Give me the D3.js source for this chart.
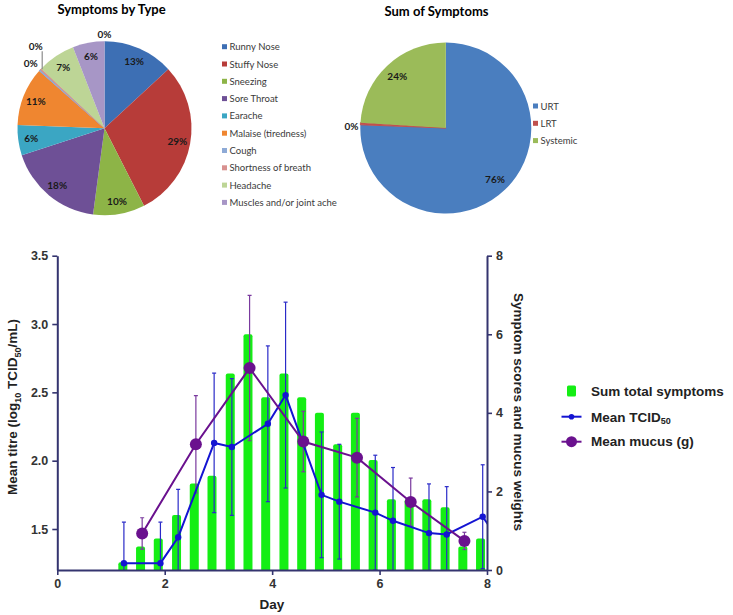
<!DOCTYPE html>
<html>
<head>
<meta charset="utf-8">
<script src="https://cdn.jsdelivr.net/npm/d3@7"></script>
<style>
  html, body { margin: 0; padding: 0; background: #fff; }
  svg { display: block; }
</style>
</head>
<body>
<svg id="chart" width="733" height="615"></svg>
<script>
// ---------------- DATA ----------------
// Pie 1: Symptoms by Type (percent of all symptoms)
const typeNames = ["Runny Nose", "Stuffy Nose", "Sneezing", "Sore Throat", "Earache",
  "Malaise (tiredness)", "Cough", "Shortness of breath", "Headache", "Muscles and/or joint ache", ""];
const typeValues = [13.1, 29.4, 9.6, 17.9, 5.6, 10.9, 0.3, 0.2, 7.1, 5.9, 0];
const typeColors = ["#3d6fb4", "#b73c39", "#8db447", "#6e5096", "#3ba6c3", "#ef8630",
  "#8eaad6", "#d8918f", "#bdd596", "#a796c6", "#cccccc"];

// Pie 2: Sum of Symptoms
const sumNames = ["URT", "LRT", "Systemic"];
const sumValues = [75.6, 0.4, 24.0];
const sumColors = ["#4a7ebf", "#c0504d", "#9bbb59"];

// Bottom chart
const xTicks = [0, 2, 4, 6, 8];
const leftTicks = [1.5, 2.0, 2.5, 3.0, 3.5];
const rightTicks = [0, 2, 4, 6, 8];

const barDays = [1.22, 1.55, 1.88, 2.22, 2.55, 2.88, 3.22, 3.55, 3.88, 4.22, 4.55,
  4.88, 5.22, 5.55, 5.88, 6.22, 6.55, 6.88, 7.22, 7.55, 7.88];
const symptomScores = [0.2, 0.6, 0.8, 1.4, 2.2, 2.4, 5.0, 6.0, 4.4, 5.0, 4.4,
  4.0, 3.2, 4.0, 2.8, 1.8, 1.8, 1.8, 1.6, 0.6, 0.8];

const tcidDays = [1.24, 1.92, 2.25, 2.92, 3.25, 3.92, 4.25, 4.92, 5.25, 5.92, 6.25, 6.92, 7.25, 7.92, 8.25];
const tcidMean = [1.25, 1.25, 1.44, 2.13, 2.10, 2.27, 2.48, 1.75, 1.70, 1.62, 1.56, 1.47, 1.46, 1.59, 1.40];
const tcidSD   = [0.30, 0.30, 0.35, 0.51, 0.50, 0.57, 0.68, 0.46, 0.42, 0.42, 0.39, 0.36, 0.35, 0.38, 0];

const mucusDays = [1.58, 2.58, 3.58, 4.58, 5.58, 6.58, 7.58];
const mucusMean = [0.93, 3.20, 5.14, 3.27, 2.86, 1.73, 0.74];
const mucusSD   = [0.40, 1.24, 1.85, 0.77, 1.00, 0.61, 0.22];

// ---------------- DRAW ----------------
const svg = d3.select("#chart");
svg.append("rect").attr("width", 733).attr("height", 615).attr("fill", "#fff");

const pieFont = "Lato, 'Open Sans', sans-serif";
const arialFont = "'Liberation Sans', Arial, sans-serif";
const pctFmt = v => d3.format(".0f")(v) + "%";

function drawPie(cfg) {
  const g = svg.append("g").attr("transform", `translate(${cfg.cx},${cfg.cy})`);
  const pie = d3.pie().sort(null).value(d => d.v);
  const data = cfg.names.map((n, i) => ({ name: n, v: cfg.values[i], color: cfg.colors[i] }));
  const arcs = pie(data);
  const arc = d3.arc().innerRadius(0).outerRadius(cfg.r);
  g.selectAll("path.slice").data(arcs).join("path")
    .attr("class", "slice")
    .attr("d", arc)
    .attr("fill", d => d.data.color)
    .attr("stroke", d => d.data.v > 0 && d.data.v < 1 ? d.data.color : "none")
    .attr("stroke-width", 1);
  const labelArc = d3.arc().innerRadius(cfg.r * cfg.lr).outerRadius(cfg.r * cfg.lr);
  let zi = 0;
  arcs.forEach(a => {
    if (a.data.v >= 1) {
      const [lx, ly] = labelArc.centroid(a);
      g.append("text").attr("x", lx).attr("y", ly)
        .attr("text-anchor", "middle").attr("dominant-baseline", "central")
        .attr("font-family", pieFont).attr("font-weight", "bold")
        .attr("font-size", cfg.fs).attr("fill", "#1a1a1a")
        .text(pctFmt(a.data.v));
    } else {
      const ang = (a.startAngle + a.endAngle) / 2;
      const ex = cfg.r * Math.sin(ang), ey = -cfg.r * Math.cos(ang);
      const off = cfg.zeroOffsets[zi] || [0, -8];
      if (off[2]) {
        g.append("line").attr("x1", ex + 1.5).attr("y1", ey)
          .attr("x2", ex + 1.5).attr("y2", ey + off[2])
          .attr("stroke", "#8c8c8c").attr("stroke-width", 1.2);
      }
      g.append("text").attr("x", ex + off[0]).attr("y", ey + off[1])
        .attr("text-anchor", "middle").attr("dominant-baseline", "central")
        .attr("font-family", pieFont).attr("font-weight", "bold")
        .attr("font-size", cfg.fs).attr("fill", "#1a1a1a")
        .text(pctFmt(a.data.v));
      zi++;
    }
  });
  // title
  svg.append("text").attr("x", cfg.tx).attr("y", cfg.ty)
    .attr("text-anchor", "middle").attr("dominant-baseline", "central")
    .attr("font-family", pieFont).attr("font-weight", "bold")
    .attr("font-size", 13).attr("fill", "#000")
    .text(cfg.title);
  // legend
  const lg = svg.append("g");
  data.filter(d => d.name !== "").forEach((d, i) => {
    const y = cfg.ly + i * cfg.lstep;
    lg.append("rect").attr("x", cfg.lx).attr("y", y - 2.5).attr("width", 5).attr("height", 5)
      .attr("fill", d.color);
    lg.append("text").attr("x", cfg.lx + 7.5).attr("y", y)
      .attr("dominant-baseline", "central")
      .attr("font-family", pieFont).attr("font-size", 9.5).attr("fill", "#3a3a3a")
      .text(d.name);
  });
}

drawPie({
  cx: 104.5, cy: 128.3, r: 87, lr: 0.85, fs: 10,
  names: typeNames, values: typeValues, colors: typeColors,
  zeroOffsets: [[-9, -7], [-5, -23, -18], [0, -7.5]],
  title: "Symptoms by Type", tx: 111.5, ty: 9,
  lx: 222, ly: 46.7, lstep: 17.3
});

drawPie({
  cx: 445.8, cy: 128, r: 85.5, lr: 0.83, fs: 10,
  names: sumNames, values: sumValues, colors: sumColors,
  zeroOffsets: [[-9, 2]],
  title: "Sum of Symptoms", tx: 436.5, ty: 11,
  lx: 533, ly: 106, lstep: 17.3
});

// ---------- bottom combo chart ----------
const x = d3.scaleLinear().domain([0, 8]).range([57.3, 487]);
const yL = d3.scaleLinear().domain([1.2, 3.5]).range([570, 255.7]);
const yR = d3.scaleLinear().domain([0, 8]).range([570, 255.7]);

const axisColor = "#34346f";
const blue = "#1414d2";
const purple = "#6a118e";
const green = "#14ee14";

svg.append("defs").append("clipPath").attr("id", "plotClip")
  .append("rect").attr("x", x(0)).attr("y", 240).attr("width", x(8) - x(0)).attr("height", 570 - 240);

const plot = svg.append("g").attr("clip-path", "url(#plotClip)");

// bars
const barW = 9;
plot.selectAll("rect.bar").data(barDays.map((d, i) => ({ d, v: symptomScores[i] })))
  .join("rect").attr("class", "bar")
  .attr("x", p => x(p.d) - barW / 2).attr("width", barW)
  .attr("y", p => yR(p.v)).attr("height", p => yR(0) - yR(p.v) + 3)
  .attr("rx", 2).attr("fill", green);

function errorBars(days, mean, sd, yScale, color, cap) {
  const pts = days.map((d, i) => ({ d, m: mean[i], s: sd[i] })).filter(p => p.s > 0 && p.d <= 8);
  const g = plot.append("g").attr("stroke", color).attr("stroke-width", 1.2).attr("fill", "none");
  pts.forEach(p => {
    g.append("line").attr("x1", x(p.d)).attr("x2", x(p.d))
      .attr("y1", yScale(p.m - p.s)).attr("y2", yScale(p.m + p.s));
    [p.m - p.s, p.m + p.s].forEach(v => {
      g.append("line").attr("x1", x(p.d) - cap).attr("x2", x(p.d) + cap)
        .attr("y1", yScale(v)).attr("y2", yScale(v));
    });
  });
}

errorBars(tcidDays, tcidMean, tcidSD, yL, "#2a2ac8", 2);
errorBars(mucusDays, mucusMean, mucusSD, yR, "#7a3a9e", 2);

// lines
const tcidPts = tcidDays.map((d, i) => [d, tcidMean[i]]);
plot.append("path").datum(tcidPts)
  .attr("d", d3.line().x(p => x(p[0])).y(p => yL(p[1])))
  .attr("fill", "none").attr("stroke", blue).attr("stroke-width", 2);

const mucusPts = mucusDays.map((d, i) => [d, mucusMean[i]]);
plot.append("path").datum(mucusPts)
  .attr("d", d3.line().x(p => x(p[0])).y(p => yR(p[1])))
  .attr("fill", "none").attr("stroke", purple).attr("stroke-width", 2);

plot.selectAll("circle.tcid").data(tcidPts.filter(p => p[0] <= 8)).join("circle")
  .attr("class", "tcid").attr("cx", p => x(p[0])).attr("cy", p => yL(p[1]))
  .attr("r", 3.2).attr("fill", blue);

plot.selectAll("circle.mucus").data(mucusPts).join("circle")
  .attr("class", "mucus").attr("cx", p => x(p[0])).attr("cy", p => yR(p[1]))
  .attr("r", 6).attr("fill", purple);

// axes
function styleAxis(g) {
  g.select(".domain").attr("stroke", axisColor).attr("stroke-width", 2);
  g.selectAll(".tick line").attr("stroke", axisColor).attr("stroke-width", 1.6);
  g.selectAll(".tick text").attr("fill", "#333")
    .attr("font-family", arialFont).attr("font-weight", "bold").attr("font-size", 12.5);
}

svg.append("g").attr("transform", `translate(${x(0)},0)`)
  .call(d3.axisLeft(yL).tickValues(leftTicks).tickFormat(d3.format(".1f")).tickSize(5).tickSizeOuter(0).tickPadding(4))
  .call(styleAxis);

svg.append("g").attr("transform", `translate(${x(8)},0)`)
  .call(d3.axisRight(yR).tickValues(rightTicks).tickFormat(d3.format("d")).tickSize(5).tickSizeOuter(0).tickPadding(4))
  .call(styleAxis);

svg.append("g").attr("transform", `translate(0,${yL(1.2)})`)
  .call(d3.axisBottom(x).tickValues(xTicks).tickFormat(d3.format("d")).tickSize(5).tickSizeOuter(0).tickPadding(4))
  .call(styleAxis);

// axis titles
const lt = svg.append("text")
  .attr("transform", `translate(17,407) rotate(-90)`)
  .attr("text-anchor", "middle")
  .attr("font-family", arialFont).attr("font-weight", "bold").attr("font-size", 13.5).attr("fill", "#222");
lt.append("tspan").text("Mean titre (log");
lt.append("tspan").attr("font-size", 9).attr("dy", 4).text("10");
lt.append("tspan").attr("dy", -4).text(" TCID");
lt.append("tspan").attr("font-size", 9).attr("dy", 4).text("50");
lt.append("tspan").attr("dy", -4).text("/mL)");

svg.append("text")
  .attr("transform", `translate(514,412) rotate(90)`)
  .attr("text-anchor", "middle")
  .attr("font-family", arialFont).attr("font-weight", "bold").attr("font-size", 13.5).attr("fill", "#222")
  .text("Symptom scores and mucus weights");

svg.append("text").attr("x", 272).attr("y", 609).attr("text-anchor", "middle")
  .attr("font-family", arialFont).attr("font-weight", "bold").attr("font-size", 13.5).attr("fill", "#222")
  .text("Day");

// legend
const leg = svg.append("g").attr("font-family", arialFont).attr("font-weight", "bold")
  .attr("font-size", 13.5).attr("fill", "#222");
const legX = 571.5, legTextX = 591;
const legY = [391, 416.7, 441.7];
leg.append("rect").attr("x", legX - 4.5).attr("y", legY[0] - 5.5).attr("width", 9).attr("height", 11)
  .attr("rx", 1.5).attr("fill", green);
leg.append("line").attr("x1", legX - 10).attr("x2", legX + 10).attr("y1", legY[1]).attr("y2", legY[1])
  .attr("stroke", blue).attr("stroke-width", 2);
leg.append("circle").attr("cx", legX).attr("cy", legY[1]).attr("r", 2.8).attr("fill", blue);
leg.append("line").attr("x1", legX - 10).attr("x2", legX + 10).attr("y1", legY[2]).attr("y2", legY[2])
  .attr("stroke", purple).attr("stroke-width", 2);
leg.append("circle").attr("cx", legX).attr("cy", legY[2]).attr("r", 5.5).attr("fill", purple);

leg.append("text").attr("x", legTextX).attr("y", legY[0]).attr("dominant-baseline", "central")
  .text("Sum total symptoms");
const t2 = leg.append("text").attr("x", legTextX).attr("y", legY[1]).attr("dominant-baseline", "central");
t2.append("tspan").text("Mean TCID");
t2.append("tspan").attr("font-size", 9).attr("dy", 4).text("50");
leg.append("text").attr("x", legTextX).attr("y", legY[2]).attr("dominant-baseline", "central")
  .text("Mean mucus (g)");
</script>
</body>
</html>
